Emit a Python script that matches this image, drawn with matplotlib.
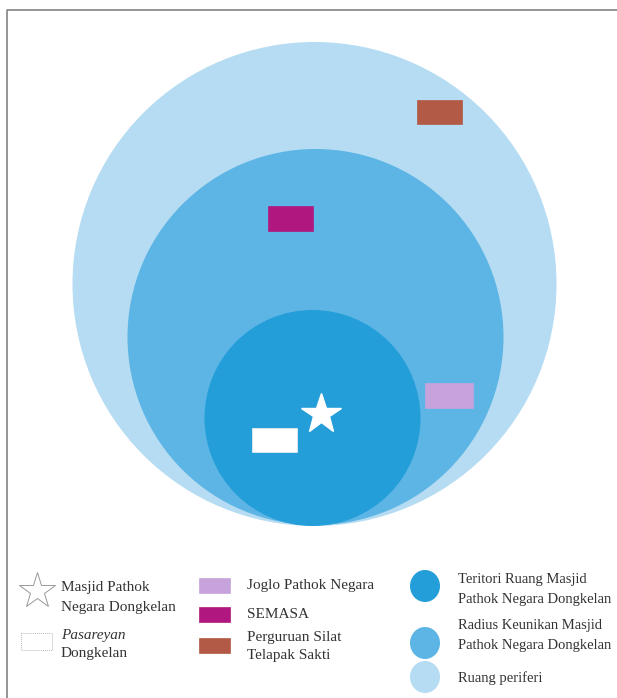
import matplotlib.pyplot as plt
from matplotlib.patches import Circle, Rectangle, Ellipse

# zones (outer -> inner)
zone_labels = [["Ruang periferi"],
               ["Radius Keunikan Masjid", "Pathok Negara Dongkelan"],
               ["Teritori Ruang Masjid", "Pathok Negara Dongkelan"]]
zone_colors = ["#b5dcf2", "#5cb5e4", "#249ed9"]

# places
place_labels = [["Joglo Pathok Negara"], ["SEMASA"], ["Perguruan Silat", "Telapak Sakti"]]
place_colors = ["#c7a3dc", "#b0187f", "#b25a45"]

mosque_label = ["Masjid Pathok", "Negara Dongkelan"]
grave_label = ["Pasareyan", "Dongkelan"]

plt.rcParams['font.family'] = ['Liberation Serif', 'DejaVu Serif']

fig = plt.figure(figsize=(6.17, 6.98), dpi=100)
ax = fig.add_axes([0, 0, 1, 1])
ax.set_xlim(0, 617)
ax.set_ylim(698, 0)
ax.set_aspect('equal')
ax.axis('off')

# frame (left + top only)
ax.plot([6.5, 6.5, 617], [698, 9.5, 9.5], color="#8c8c8c", lw=1.3)

# circles
circles = [(314.5, 284, 242), (315.5, 337, 188), (312.5, 418, 108)]
for (cx, cy, r), c in zip(circles, zone_colors):
    ax.add_patch(Circle((cx, cy), r, color=c, lw=0))

# place markers on the map
rects = [(425, 383, 48, 25), (268, 206, 45, 25), (417, 100, 45, 24)]
for (x, y, w, h), c in zip(rects, place_colors):
    ax.add_patch(Rectangle((x, y), w, h, facecolor=c, edgecolor=c, lw=0.5))
ax.add_patch(Rectangle((252, 428), 45, 24, facecolor="white", edgecolor="#f0f0f0", lw=0.5))
ax.plot([321], [414], marker='*', ms=30, color="white", mec="white")

fs = 11
fs3 = 10.5
tc = "#333333"


def lines(x, ys, texts, size, **kw):
    for y, t in zip(ys, texts):
        ax.text(x, y, t, fontsize=size, color=tc, va='center', **kw)


# legend column 1
ax.plot([37], [591], marker='*', ms=27, mfc="white", mec="#999999", mew=0.7)
lines(61, [588, 607], mosque_label, fs)
ax.add_patch(Rectangle((21, 633), 31, 17, facecolor="white", edgecolor="#bbbbbb",
                       lw=0.7, ls=(0, (1, 1))))
lines(61, [635], grave_label[:1], fs, style='italic')
lines(61, [653], grave_label[1:], fs)

# legend column 2
rect_y = [585, 614, 645]
text_y = [[585], [614], [637, 655]]
for y, tys, lab, c in zip(rect_y, text_y, place_labels, place_colors):
    ax.add_patch(Rectangle((199, y - 7.5), 31, 15, facecolor=c, edgecolor=c, lw=0.5))
    lines(247, tys, lab, fs)

# legend column 3 (inner -> outer)
ell_y = [586, 643, 677]
ztext_y = [[580, 599], [626, 645], [678]]
for y, tys, lab, c in zip(ell_y, ztext_y, zone_labels[::-1], zone_colors[::-1]):
    ax.add_patch(Ellipse((425, y), 30, 32, color=c, lw=0))
    lines(458, tys, lab, fs3)

fig.savefig("out.png", dpi=100)
